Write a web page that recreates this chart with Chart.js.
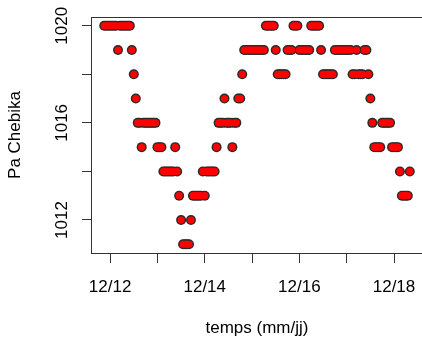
<!DOCTYPE html>
<html>
<head>
<meta charset="utf-8">
<script src="https://cdn.jsdelivr.net/npm/chart.js@4.4.1/dist/chart.umd.min.js"></script>
<style>
    body { margin: 0; overflow: hidden; background: #fff; }
    canvas { display: block; }
</style>
</head>
<body>
<canvas id="pressureChart" width="422" height="340"></canvas>
<script>
// Hours since 12/12 00:00
const hours = [
    -3, -2, -1, 0, 1, 2, 3, 4, 5, 6, 7, 8,
    9, 10, 11, 12, 13, 14, 15, 16, 17, 18, 19, 20,
    21, 22, 23, 24, 25, 26, 27, 28, 29, 30, 31, 32,
    33, 34, 35, 36, 37, 38, 39, 40, 41, 42, 43, 44,
    45, 46, 47, 48, 49, 50, 51, 52, 53, 54, 55, 56,
    57, 58, 59, 60, 61, 62, 63, 64, 65, 66, 67, 68,
    69, 70, 71, 72, 73, 74, 75, 76, 77, 78, 79, 80,
    81, 82, 83, 84, 85, 86, 87, 88, 89, 90, 91, 92,
    93, 94, 95, 96, 97, 98, 99, 100, 101, 102, 103, 104,
    105, 106, 107, 108, 109, 110, 111, 112, 113, 114, 115, 116,
    117, 118, 119, 120, 121, 122, 123, 124, 125, 126, 127, 128,
    129, 130, 131, 132, 133, 134, 135, 136, 137, 138, 139, 140,
    141, 142, 143, 144, 145, 146, 147, 148, 149, 150, 151, 152
];

// Pressure (hPa) at Chebika
const pressure = [
    1020, 1020, 1020, 1020, 1020, 1020, 1020, 1019, 1020, 1020, 1020, 1020,
    1020, 1020, 1019, 1018, 1017, 1016, 1016, 1015, 1016, 1016, 1016, 1016,
    1016, 1016, 1016, 1015, 1015, 1015, 1014, 1014, 1014, 1014, 1014, 1014,
    1015, 1014, 1013, 1012, 1011, 1011, 1011, 1011, 1012, 1013, 1013, 1013,
    1013, 1013, 1014, 1013, 1014, 1014, 1014, 1014, 1014, 1015, 1016, 1016,
    1016, 1017, 1016, 1016, 1016, 1015, 1016, 1016, 1017, 1017, 1018, 1019,
    1019, 1019, 1019, 1019, 1019, 1019, 1019, 1019, 1019, 1019, 1020, 1020,
    1020, 1020, 1020, 1019, 1018, 1018, 1018, 1018, 1018, 1019, 1019, 1019,
    1020, 1020, 1020, 1019, 1019, 1019, 1019, 1019, 1019, 1020, 1020, 1020,
    1020, 1020, 1019, 1018, 1018, 1018, 1018, 1018, 1018, 1019, 1019, 1019,
    1019, 1019, 1019, 1019, 1019, 1019, 1018, 1018, 1019, 1018, 1018, 1018,
    1019, 1019, 1018, 1017, 1016, 1015, 1015, 1015, 1015, 1016, 1016, 1016,
    1016, 1016, 1015, 1015, 1015, 1015, 1014, 1013, 1013, 1013, 1013, 1014
];

// Axis ticks
const dayTicks = [0, 24, 48, 72, 96, 120, 144];
const dayLabels = ['12/12', '12/13', '12/14', '12/15', '12/16', '12/17', '12/18'];
const pressureTicks = [1012, 1014, 1016, 1018, 1020];
const pressureLabels = ['1012', '1014', '1016', '1018', '1020'];

const font = { family: "'Liberation Sans', Arial, sans-serif", size: 17 };
const axisColor = '#333';

// Draws the frame around the plot region (right side falls outside the canvas)
const framePlugin = {
    id: 'frame',
    afterDraw(chart) {
        const { ctx, chartArea: a } = chart;
        ctx.save();
        ctx.strokeStyle = axisColor;
        ctx.lineWidth = 1;
        ctx.strokeRect(a.left - 0.5, a.top + 0.5, a.right - a.left + 1, a.bottom - a.top);
        ctx.restore();
    }
};

function buildChart() {
    const ctx = document.getElementById('pressureChart');
    const points = hours.map((h, i) => ({ x: h, y: pressure[i] }));

    new Chart(ctx, {
        type: 'scatter',
        data: {
            datasets: [
                {
                    // red fill on top
                    data: points,
                    order: 0,
                    backgroundColor: '#ff0000',
                    borderWidth: 0,
                    pointRadius: 3.6,
                    pointHoverRadius: 3.6
                },
                {
                    // dark outline underneath
                    data: points,
                    order: 1,
                    backgroundColor: '#2a2a2a',
                    borderWidth: 0,
                    pointRadius: 5,
                    pointHoverRadius: 5
                }
            ]
        },
        options: {
            responsive: false,
            animation: false,
            devicePixelRatio: 1,
            layout: {
                autoPadding: false,
                padding: { top: 17, right: -2, bottom: 0, left: 0 }
            },
            plugins: {
                legend: { display: false },
                tooltip: { enabled: false }
            },
            scales: {
                x: {
                    type: 'linear',
                    min: -9.2,
                    max: 158.2,
                    afterBuildTicks: scale => {
                        scale.ticks = dayTicks.map(v => ({ value: v }));
                    },
                    afterFit: scale => {
                        scale.height = 87;
                        scale.paddingLeft = 0;
                        scale.paddingRight = 0;
                    },
                    border: { display: false },
                    grid: {
                        drawOnChartArea: false,
                        tickLength: 10,
                        tickColor: axisColor
                    },
                    ticks: {
                        autoSkip: false,
                        maxRotation: 0,
                        padding: 14,
                        color: '#000',
                        font: font,
                        callback: (value, index) => index % 2 === 0 ? dayLabels[index] : ''
                    },
                    title: {
                        display: true,
                        text: 'temps (mm/jj)',
                        color: '#000',
                        font: font,
                        padding: { top: 0, bottom: 1 }
                    }
                },
                y: {
                    min: 1010.64,
                    max: 1020.36,
                    afterBuildTicks: scale => {
                        scale.ticks = pressureTicks.map(v => ({ value: v }));
                    },
                    afterFit: scale => { scale.width = 92; },
                    border: { display: false },
                    grid: {
                        drawOnChartArea: false,
                        tickLength: 10,
                        tickColor: axisColor
                    },
                    ticks: {
                        autoSkip: false,
                        minRotation: 90,
                        maxRotation: 90,
                        crossAlign: 'center',
                        padding: 1,
                        color: '#000',
                        font: font,
                        callback: (value, index) => index % 2 === 0 ? pressureLabels[index] : ''
                    },
                    title: {
                        display: true,
                        text: 'Pa Chebika',
                        color: '#000',
                        font: font,
                        padding: { top: 5, bottom: 0 }
                    }
                }
            }
        },
        plugins: [framePlugin]
    });
}

document.addEventListener('DOMContentLoaded', buildChart);
</script>
</body>
</html>
